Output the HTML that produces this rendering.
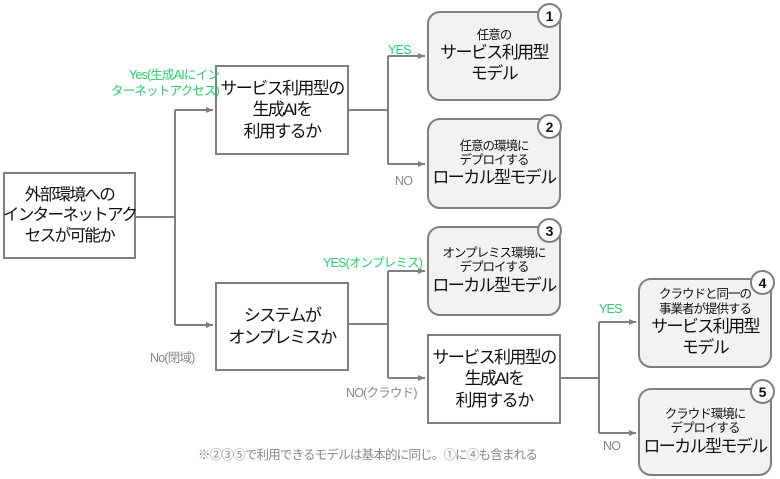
<!DOCTYPE html>
<html><head><meta charset="utf-8"><style>
body{margin:0;width:780px;height:479px;background:#fff;position:relative;overflow:hidden;font-family:"Liberation Sans","Noto Sans CJK JP",sans-serif;}
.b{position:absolute;box-sizing:border-box;border:2px solid #7f7f7f;background:#fff;display:flex;flex-direction:column;align-items:center;justify-content:center;text-align:center;color:#111;line-height:1.25;white-space:nowrap}
.r{background:#f2f2f2;border-radius:13px;}
.s{font-size:12.5px;line-height:1.15;letter-spacing:-1px}
.l{font-size:17px;letter-spacing:-1.6px;line-height:1.25}
.c{position:absolute;width:25px;height:25px;border:2px solid #7f7f7f;border-radius:50%;background:#fff;box-sizing:border-box;font-size:14px;font-weight:bold;display:flex;align-items:center;justify-content:center;color:#111}
.t{position:absolute;font-size:12.5px;white-space:nowrap;line-height:1.3;letter-spacing:-0.8px}
.g{color:#22d26a}.y{color:#888}
svg{position:absolute;left:0;top:0}
</style></head><body>
<svg width="780" height="479"><defs><marker id="a" markerUnits="userSpaceOnUse" markerWidth="8" markerHeight="8" refX="7" refY="4" orient="auto"><path d="M0,1 L7,4 L0,7z" fill="#7f7f7f"/></marker></defs>
<g stroke="#7f7f7f" stroke-width="2" fill="none">
<path d="M135,217 H175 M175,110 V325"/>
<path d="M175,110 H213" marker-end="url(#a)"/>
<path d="M175,325 H213" marker-end="url(#a)"/>
<path d="M348,110 H388 M388,56 V164"/>
<path d="M388,56 H425" marker-end="url(#a)"/>
<path d="M388,164 H425" marker-end="url(#a)"/>
<path d="M348,324 H388 M388,271 V378"/>
<path d="M388,271 H425" marker-end="url(#a)"/>
<path d="M388,378 H425" marker-end="url(#a)"/>
<path d="M560,378 H599 M599,322 V433"/>
<path d="M599,322 H636" marker-end="url(#a)"/>
<path d="M599,433 H636" marker-end="url(#a)"/>
</g></svg>
<div class="b" style="left:3px;top:172px;width:133px;height:87px;font-size:16.5px;letter-spacing:-1.6px">外部環境への<br>インターネットアク<br>セスが可能か</div>
<div class="b l" style="left:215px;top:65px;width:134px;height:90px">サービス利用型の<br>生成AIを<br>利用するか</div>
<div class="b l" style="left:215px;top:282px;width:134px;height:89px">システムが<br>オンプレミスか</div>
<div class="b l" style="left:427px;top:334px;width:134px;height:90px">サービス利用型の<br>生成AIを<br>利用するか</div>
<div class="b r" style="left:427px;top:11px;width:134px;height:90px"><span class="s">任意の</span><span class="l">サービス利用型<br>モデル</span></div>
<div class="b r" style="left:427px;top:118px;width:134px;height:91px"><span class="s">任意の環境に<br>デプロイする</span><span class="l">ローカル型モデル</span></div>
<div class="b r" style="left:427px;top:226px;width:134px;height:90px"><span class="s">オンプレミス環境に<br>デプロイする</span><span class="l">ローカル型モデル</span></div>
<div class="b r" style="left:638px;top:278px;width:134px;height:90px"><span class="s">クラウドと同一の<br>事業者が提供する</span><span class="l">サービス利用型<br>モデル</span></div>
<div class="b r" style="left:638px;top:388px;width:134px;height:88px"><span class="s">クラウド環境に<br>デプロイする</span><span class="l">ローカル型モデル</span></div>
<div class="c" style="left:537px;top:3px">1</div>
<div class="c" style="left:537px;top:114px">2</div>
<div class="c" style="left:537px;top:218px">3</div>
<div class="c" style="left:750px;top:270px">4</div>
<div class="c" style="left:750px;top:379px">5</div>
<div class="t g" style="left:111px;top:67px;text-align:right">Yes(生成AIにイン<br>ターネットアクセス)</div>
<div class="t g" style="left:388px;top:42px">YES</div>
<div class="t y" style="left:395px;top:173px">NO</div>
<div class="t g" style="left:323px;top:255px">YES(オンプレミス)</div>
<div class="t y" style="left:346px;top:385px">NO(クラウド)</div>
<div class="t y" style="left:150px;top:350px">No(閉域)</div>
<div class="t g" style="left:599px;top:301px">YES</div>
<div class="t y" style="left:603px;top:438px">NO</div>
<div class="t y" style="left:198px;top:447px;letter-spacing:-0.8px">※②③⑤で利用できるモデルは基本的に同じ。①に④も含まれる</div>
</body></html>
